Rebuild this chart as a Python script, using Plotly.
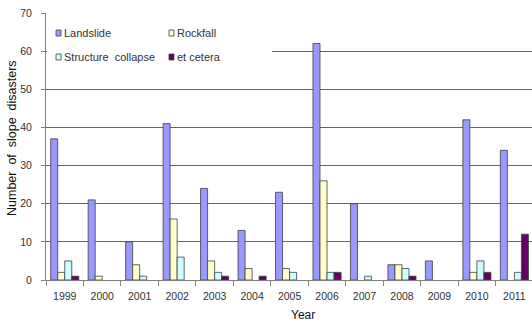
import plotly.graph_objects as go

years = ["1999", "2000", "2001", "2002", "2003", "2004", "2005",
         "2006", "2007", "2008", "2009", "2010", "2011"]
landslide = [37, 21, 10, 41, 24, 13, 23, 62, 20, 4, 5, 42, 34]
rockfall = [2, 1, 4, 16, 5, 3, 3, 26, 0, 4, 0, 2, 0]
structure_collapse = [5, 0, 1, 6, 2, 0, 2, 2, 1, 3, 0, 5, 2]
et_cetera = [1, 0, 0, 0, 1, 1, 0, 2, 0, 1, 0, 2, 12]

series_names = ["Landslide", "Rockfall", "Structure  collapse", "et cetera"]
series_values = [landslide, rockfall, structure_collapse, et_cetera]
series_colors = ["#9999FF", "#FFFFCC", "#CCFFFF", "#660066"]

W, H = 532, 324
ML, MR, MT, MB = 46, 0, 13, 44
PW, PH = W - ML - MR, H - MT - MB

def px_x(px):
    return (px - ML) / PW

def px_y(py):
    return (H - MB - py) / PH

FONT = "Liberation Sans"

fig = go.Figure()
for name, vals, col in zip(series_names, series_values, series_colors):
    # empty bars get no outline so nothing is drawn on the baseline
    outline = [0.8 if v > 0 else 0 for v in vals]
    fig.add_trace(go.Bar(
        x=years, y=vals, name=name, showlegend=False,
        marker=dict(color=col, line=dict(color="#404040", width=outline)),
    ))

# white panel behind the legend entries hides the gridline there
shapes = [dict(type="rect", xref="paper", yref="paper",
               x0=px_x(47), x1=px_x(272), y0=px_y(86), y1=px_y(15),
               fillcolor="white", line=dict(width=0), layer="above")]
annotations = []
legend_pos = [(56, 33), (169, 33), (56, 57), (169, 57)]
for (lx, ly), name, col in zip(legend_pos, series_names, series_colors):
    shapes.append(dict(type="rect", xref="paper", yref="paper",
                       x0=px_x(lx), x1=px_x(lx + 5),
                       y0=px_y(ly + 3), y1=px_y(ly - 3),
                       fillcolor=col, line=dict(color="#404040", width=0.8),
                       layer="above"))
    annotations.append(dict(text=name, xref="paper", yref="paper",
                            x=px_x(lx + 6), y=px_y(ly), xanchor="left",
                            yanchor="middle", showarrow=False,
                            font=dict(family=FONT, size=11, color="#333")))

annotations.append(dict(text="Number  of  slope  disasters", textangle=-90,
                        xref="paper", yref="paper", x=px_x(12), y=px_y(138),
                        xanchor="center", yanchor="middle", showarrow=False,
                        font=dict(family=FONT, size=12.5, color="#111")))
annotations.append(dict(text="Year", xref="paper", yref="paper",
                        x=px_x(303), y=px_y(315), xanchor="center",
                        yanchor="middle", showarrow=False,
                        font=dict(family=FONT, size=12, color="#111")))

fig.update_layout(
    width=W, height=H,
    margin=dict(l=ML, r=MR, t=MT, b=MB, pad=0),
    paper_bgcolor="white", plot_bgcolor="white",
    barmode="group", bargap=0.25, bargroupgap=0,
    shapes=shapes, annotations=annotations,
    font=dict(family=FONT, size=10.5, color="#333"),
)
fig.update_xaxes(
    type="category", range=[-0.5, 12.47],
    showline=True, linecolor="#808080", linewidth=1,
    ticks="outside", tickson="boundaries", ticklen=5, tickcolor="#808080",
    ticklabelstandoff=6, showgrid=False, zeroline=False,
    tickfont=dict(family=FONT, size=10.5, color="#333"),
)
fig.update_yaxes(
    range=[0, 70], dtick=10, tick0=0,
    showline=True, linecolor="#808080", linewidth=1,
    ticks="outside", ticklen=4, tickcolor="#808080",
    ticklabelstandoff=7,
    showgrid=True, gridcolor="#666666", gridwidth=1, zeroline=False,
    tickfont=dict(family=FONT, size=10.5, color="#333"),
)

fig.write_html("out.html")
